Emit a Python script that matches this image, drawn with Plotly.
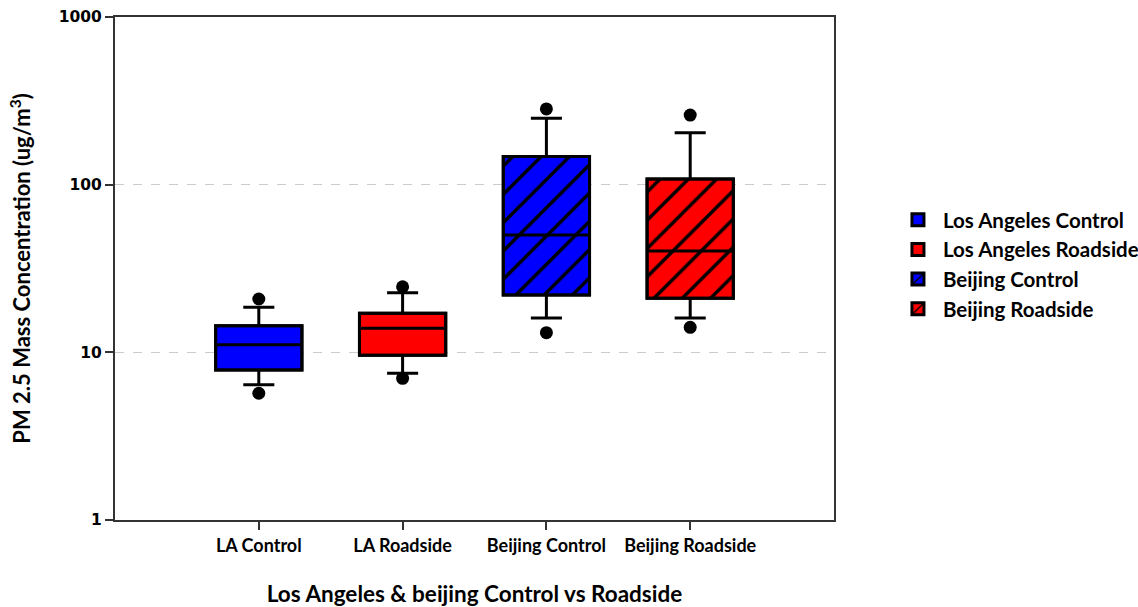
import plotly.graph_objects as go

categories = ["LA Control", "LA Roadside", "Beijing Control", "Beijing Roadside"]
legend_names = ["Los Angeles Control", "Los Angeles Roadside", "Beijing Control", "Beijing Roadside"]
q1 = [7.85, 9.6, 22.0, 21.0]
median = [11.1, 13.9, 50.1, 40.2]
q3 = [14.4, 17.1, 147.0, 108.0]
lower_whisker = [6.4, 7.5, 16.0, 16.0]
upper_whisker = [18.6, 22.7, 249.0, 204.0]
low_outlier = [5.7, 7.0, 13.1, 14.1]
high_outlier = [20.8, 24.6, 283.0, 260.0]
colors = ["#0000FF", "#FF0000", "#0000FF", "#FF0000"]
hatched = [False, False, True, True]
y_tickvals = [1, 10, 100, 1000]
y_ticktext = ["<b>1</b>", "<b>10</b>", "<b>100</b>", "<b>1000</b>"]

fig = go.Figure()

# filled boxes (bars) for fill and hatch pattern
for i, cat in enumerate(categories):
    if hatched[i]:
        pattern = dict(shape="/", fgcolor="black", fgopacity=1, bgcolor=colors[i],
                       size=20, solidity=0.17, fillmode="replace")
    else:
        pattern = dict(shape="")
    fig.add_trace(go.Bar(
        x=[cat], y=[q3[i] - q1[i]], base=[q1[i]], width=0.6,
        name="<b>" + legend_names[i] + "</b>",
        marker=dict(color=colors[i], opacity=1, line=dict(color="black", width=3), pattern=pattern),
        showlegend=True, hoverinfo="skip",
    ))

# box outlines, medians, whiskers
for i, cat in enumerate(categories):
    fig.add_trace(go.Box(
        x=[cat], q1=[q1[i]], median=[median[i]], q3=[q3[i]],
        lowerfence=[lower_whisker[i]], upperfence=[upper_whisker[i]],
        width=0.6, whiskerwidth=0.36,
        fillcolor="rgba(0,0,0,0)", line=dict(color="black", width=3),
        showlegend=False, boxpoints=False,
    ))

# outlier points
fig.add_trace(go.Scatter(
    x=categories + categories, y=low_outlier + high_outlier, mode="markers",
    marker=dict(color="black", size=13), showlegend=False,
))

fig.update_layout(
    width=1138, height=607,
    margin=dict(l=115, r=304, t=17, b=87, autoexpand=False),
    paper_bgcolor="white", plot_bgcolor="white",
    barmode="overlay", boxmode="overlay",
    font=dict(family="Lato", color="black"),
    legend=dict(x=1.082, y=0.508, xanchor="left", yanchor="middle",
                font=dict(family="Lato", size=20.5),
                tracegroupgap=2, itemwidth=40, bgcolor="rgba(0,0,0,0)"),
    xaxis=dict(
        type="category", categoryorder="array", categoryarray=categories,
        range=[-1, 4],
        tickvals=categories, ticktext=["<b>" + c + "</b>" for c in categories],
        showline=True, linecolor="#333333", linewidth=2, mirror=True,
        ticks="outside", ticklen=8, tickwidth=1.5, tickcolor="#333333",
        tickfont=dict(family="Lato", size=18),
        title=dict(text="<b>Los Angeles &amp; beijing Control vs Roadside</b>",
                   font=dict(family="Lato", size=22.5), standoff=32),
        showgrid=False, zeroline=False,
    ),
    yaxis=dict(
        type="log", range=[0, 3],
        tickvals=y_tickvals, ticktext=y_ticktext,
        showline=True, linecolor="#333333", linewidth=2, mirror=True,
        ticks="outside", ticklen=8, tickwidth=1.5, tickcolor="#333333",
        tickfont=dict(family="DejaVu Sans", size=15.5),
        showgrid=True, gridcolor="#CCCCCC", griddash="dash", gridwidth=1,
        title=dict(text="<b>PM 2.5 Mass Concentration (ug/m<sup>3</sup>)</b>",
                   font=dict(family="Lato", size=22), standoff=22),
        zeroline=False,
    ),
)

fig.write_html("out.html")
